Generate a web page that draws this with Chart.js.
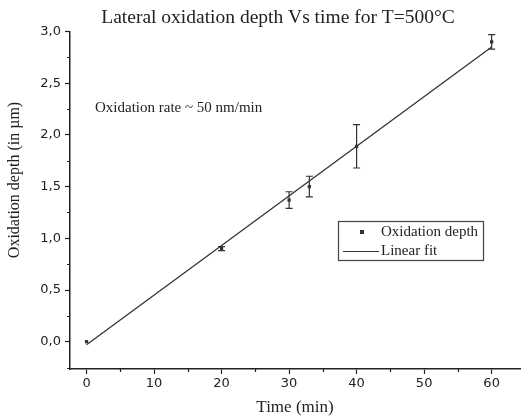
<!DOCTYPE html>
<html><head><meta charset="utf-8">
<script src="https://cdn.jsdelivr.net/npm/chart.js@4/dist/chart.umd.min.js"></script>
<style>html,body{margin:0;padding:0;background:#fff}#wrap{width:524px;height:419px;position:relative}</style>
</head><body><div id="wrap"><canvas id="c" width="524" height="419"></canvas></div>
<script>
const timeMin = [0, 20, 30, 33, 40, 60];
const depthUm = [0.0, 0.90, 1.37, 1.50, 1.89, 2.90];
const depthErr = [0.0, 0.02, 0.08, 0.10, 0.21, 0.07];
const fitTime = [0, 60];
const fitDepth = [-0.03, 2.85];
const xMajorTicks = [0, 10, 20, 30, 40, 50, 60];
const xMinorTicks = [5, 15, 25, 35, 45, 55];
const yMajorTicks = [0, 0.5, 1.0, 1.5, 2.0, 2.5, 3.0];
const yMinorTicks = [-0.25, 0.25, 0.75, 1.25, 1.75, 2.25, 2.75];
const seriesLabels = ['Oxidation depth', 'Linear fit'];
const chartTitle = 'Lateral oxidation depth Vs time for T=500°C';
const noteText = 'Oxidation rate ~ 50 nm/min';
const xTitle = 'Time (min)';
const yTitle = 'Oxidation depth (in µm)';

const INK = '#222';
const SERIF = '"Liberation Serif", "Times New Roman", serif';
const SANS = '"DejaVu Sans", Arial, sans-serif';

const extras = {
  id: 'extras',
  afterDatasetsDraw(chart) {
    const ctx = chart.ctx, xs = chart.scales.x, ys = chart.scales.y;
    ctx.save();
    ctx.strokeStyle = '#333';
    ctx.lineWidth = 1.2;
    timeMin.forEach((t, i) => {
      const e = depthErr[i];
      if (!e) return;
      const px = xs.getPixelForValue(t);
      const top = ys.getPixelForValue(depthUm[i] + e);
      const bot = ys.getPixelForValue(depthUm[i] - e);
      ctx.beginPath();
      ctx.moveTo(px, top); ctx.lineTo(px, bot);
      ctx.moveTo(px - 3.5, top); ctx.lineTo(px + 3.5, top);
      ctx.moveTo(px - 3.5, bot); ctx.lineTo(px + 3.5, bot);
      ctx.stroke();
    });
    ctx.restore();
  },
  afterDraw(chart) {
    const ctx = chart.ctx, xs = chart.scales.x, ys = chart.scales.y;
    const ca = chart.chartArea;
    ctx.save();
    // minor ticks
    ctx.strokeStyle = INK;
    ctx.lineWidth = 1.2;
    ctx.beginPath();
    xMinorTicks.forEach(v => {
      const px = Math.round(xs.getPixelForValue(v)) + 0.5;
      ctx.moveTo(px, ca.bottom); ctx.lineTo(px, ca.bottom + 3);
    });
    yMinorTicks.forEach(v => {
      const py = Math.round(ys.getPixelForValue(v)) + 0.5;
      ctx.moveTo(ca.left, py); ctx.lineTo(ca.left - 3, py);
    });
    ctx.stroke();

    ctx.fillStyle = INK;
    // title
    ctx.font = '19.5px ' + SERIF;
    ctx.textAlign = 'center';
    ctx.textBaseline = 'middle';
    ctx.fillText(chartTitle, 278, 18);
    // note
    ctx.font = '15px ' + SERIF;
    ctx.textAlign = 'left';
    ctx.fillText(noteText, 95, 108);
    // y title
    ctx.save();
    ctx.translate(15, 180);
    ctx.rotate(-Math.PI / 2);
    ctx.font = '16px ' + SERIF;
    ctx.textAlign = 'center';
    ctx.fillText(yTitle, 0, 0);
    ctx.restore();
    // legend
    ctx.strokeStyle = '#444';
    ctx.lineWidth = 1.2;
    ctx.strokeRect(338.5, 221.5, 145, 39);
    ctx.fillStyle = '#333';
    ctx.fillRect(360, 230, 4, 4);
    ctx.strokeStyle = '#333';
    ctx.beginPath();
    ctx.moveTo(343, 251.5); ctx.lineTo(379, 251.5);
    ctx.stroke();
    ctx.fillStyle = INK;
    ctx.font = '15px ' + SERIF;
    ctx.textAlign = 'left';
    ctx.fillText(seriesLabels[0], 381, 232);
    ctx.fillText(seriesLabels[1], 381, 251);
    ctx.restore();
  }
};

new Chart(document.getElementById('c'), {
  type: 'scatter',
  data: {
    datasets: [
      {
        label: seriesLabels[0],
        data: timeMin.map((t, i) => ({ x: t, y: depthUm[i] })),
        pointStyle: 'rect',
        pointRadius: 2.3,
        backgroundColor: '#333',
        borderColor: '#333',
        borderWidth: 0,
        showLine: false,
        order: 0
      },
      {
        label: seriesLabels[1],
        data: fitTime.map((t, i) => ({ x: t, y: fitDepth[i] })),
        showLine: true,
        pointRadius: 0,
        borderColor: '#333',
        borderWidth: 1.3,
        fill: false,
        order: 1
      }
    ]
  },
  options: {
    responsive: false,
    animation: false,
    devicePixelRatio: 1,
    layout: { padding: { top: 31.5, right: 1, left: 0, bottom: 0 } },
    plugins: { legend: { display: false }, title: { display: false }, tooltip: { enabled: false } },
    scales: {
      x: {
        type: 'linear',
        min: -2.45,
        max: 64.2,
        afterBuildTicks: s => { s.ticks = xMajorTicks.map(v => ({ value: v })); },
        afterFit: s => { s.height = 50; },
        ticks: { font: { family: SANS, size: 13 }, color: INK, padding: 1.5, maxRotation: 0, autoSkip: false },
        grid: { drawOnChartArea: false, drawTicks: true, tickLength: 5, tickColor: INK, tickWidth: 1.2 },
        border: { display: true, color: INK, width: 1.5 },
        title: { display: true, text: xTitle, font: { family: SERIF, size: 17 }, color: INK, padding: { top: 0, bottom: 1 } }
      },
      y: {
        type: 'linear',
        min: -0.264,
        max: 3.0,
        afterBuildTicks: s => { s.ticks = yMajorTicks.map(v => ({ value: v })); },
        afterFit: s => { s.width = 70; },
        ticks: {
          font: { family: SANS, size: 13 }, color: INK, padding: 4, autoSkip: false,
          callback: v => Number(v).toFixed(1).replace('.', ',')
        },
        grid: { drawOnChartArea: false, drawTicks: true, tickLength: 5, tickColor: INK, tickWidth: 1.2 },
        border: { display: true, color: INK, width: 1.5 }
      }
    }
  },
  plugins: [extras]
});
</script>
</body></html>
